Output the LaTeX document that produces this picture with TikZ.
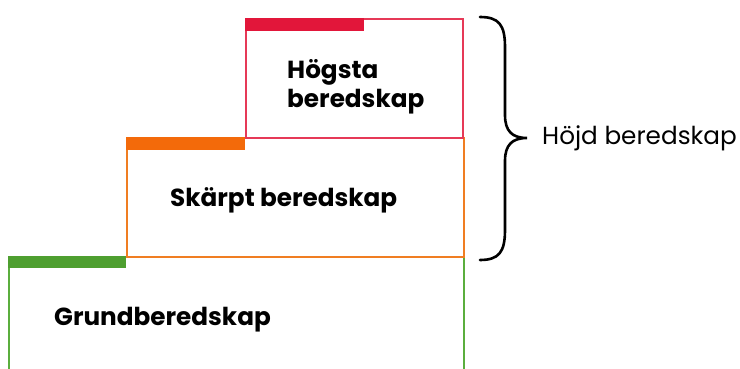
\documentclass[tikz,border=0pt]{standalone}
\usepackage{fontspec}
\setmainfont{Poppins}
\definecolor{cred}{HTML}{E2163A}
\definecolor{cora}{HTML}{F36A0A}
\definecolor{corl}{HTML}{F07E22}
\definecolor{cgrn}{HTML}{4E9F30}
\definecolor{cgrl}{HTML}{5BAE3E}
\begin{document}
\begin{tikzpicture}[x=1pt,y=-1pt,
  outl/.style={line width=1.8pt},
  lab/.style={font=\bfseries\fontsize{24.7}{29.5}\selectfont, inner sep=0pt, align=left}]
\useasboundingbox (0,0) rectangle (740,369);
% green box (open bottom)
\draw[outl, cgrl] (9,369) -- (9,257) -- (464,257) -- (464,369);
% orange box
\draw[outl, corl] (127,138) rectangle (464,257);
% red box
\draw[outl, cred!85!white] (246,19) rectangle (463,138);
% bars
\fill[cgrn] (8,256) rectangle (126,268);
\fill[cora] (126,137) rectangle (245,150);
\fill[cred] (245,18) rectangle (364,31);
% labels
\node[lab, anchor=north west] (hog) at (287,59) {Högsta\\beredskap};
\node[lab, anchor=base west] (ska) at (170,206) {Skärpt beredskap};
\node[lab, anchor=base west] (gru) at (54,325) {Grundberedskap};
% brace
\draw[line width=2.6pt, line cap=round] (480,17) .. controls (499,17) and (505,25) .. (505,47) -- (505,115) .. controls (505,131) and (512,138) .. (527,138)
  .. controls (512,138) and (505,145) .. (505,161) -- (505,230) .. controls (505,252) and (499,260) .. (480,260);
\node[font=\fontsize{24.7}{29}\selectfont, inner sep=0pt, anchor=base west] (hojd) at (542,145) {Höjd beredskap};
\end{tikzpicture}
\end{document}
